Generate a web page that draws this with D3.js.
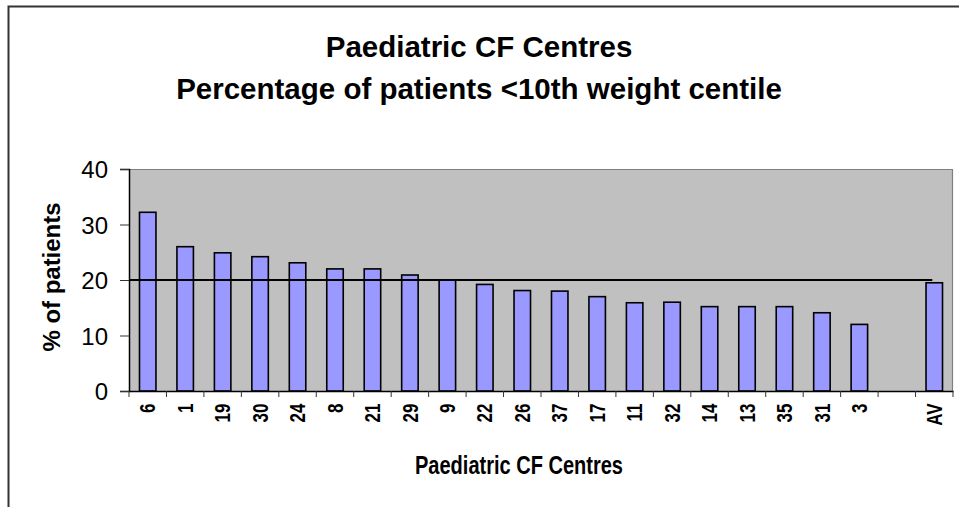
<!DOCTYPE html>
<html>
<head>
<meta charset="utf-8">
<script src="https://cdn.jsdelivr.net/npm/d3@7"></script>
<style>
    body { margin: 0; background: #fff; }
    svg { display: block; font-family: 'Liberation Sans', Arial, sans-serif; }
</style>
</head>
<body>
<div id="chart"></div>
<script>
// Data
const centres = ['6', '1', '19', '30', '24', '8', '21', '29', '9', '22', '26', '37', '17', '11', '32', '14', '13', '35', '31', '3', ' ', 'AV']
const percentages = [32.2, 26, 24.9, 24.2, 23.1, 22, 22, 20.9, 20, 19.2, 18.1, 18, 17, 15.9, 16, 15.2, 15.2, 15.2, 14.1, 12, null, 19.5]
const yTicks = [0, 10, 20, 30, 40]
const averageLine = 20
const titleLines = ['Paediatric CF Centres', 'Percentage of patients <10th weight centile']
const xTitle = 'Paediatric CF Centres'
const yTitle = '% of patients'

const width = 959
const height = 507
const margin = { top: 169, right: 6, bottom: 116, left: 129 }
const chartWidth = width - margin.left - margin.right
const chartHeight = height - margin.top - margin.bottom

const svg = d3.select('#chart').append('svg')
    .attr('width', width)
    .attr('height', height)

// Outer frame (only top and left visible)
svg.append('path')
    .attr('d', `M8.5,${height}V6.5H${width}`)
    .attr('fill', 'none')
    .attr('stroke', '#333')
    .attr('stroke-width', 2)

// Title
titleLines.forEach((line, i) => {
    svg.append('text')
        .attr('transform', `translate(479, ${57 + i * 42})`)
        .attr('text-anchor', 'middle')
        .attr('font-size', 29.5)
        .attr('font-weight', 'bold')
        .text(line)
})

// Scales
const x = d3.scaleBand()
    .domain(centres)
    .range([0, chartWidth])
    .paddingInner(0.56)
    .paddingOuter(0.28)
const y = d3.scaleLinear()
    .domain([0, 40])
    .range([chartHeight, 0])

const g = svg.append('g')
    .attr('transform', `translate(${margin.left}, ${margin.top})`)

// Plot area
g.append('rect')
    .attr('width', chartWidth)
    .attr('height', chartHeight)
    .attr('fill', '#c0c0c0')
g.append('path')
    .attr('d', `M0,0.5H${chartWidth - 0.5}V${chartHeight}`)
    .attr('fill', 'none')
    .attr('stroke', '#808080')
    .attr('stroke-width', 1.2)

// Bars
const bars = centres.map((c, i) => ({ centre: c, value: percentages[i] })).filter(d => d.value !== null)
g.selectAll('rect.bar')
    .data(bars)
    .enter()
    .append('rect')
    .attr('class', 'bar')
    .attr('x', d => x(d.centre))
    .attr('y', d => y(d.value))
    .attr('width', x.bandwidth())
    .attr('height', d => chartHeight - y(d.value))
    .attr('fill', '#9999ff')
    .attr('stroke', '#000')
    .attr('stroke-width', 1.6)

// Average line
g.append('line')
    .attr('x1', 0)
    .attr('x2', x('AV') + x.bandwidth() / 2 - 2)
    .attr('y1', y(averageLine))
    .attr('y2', y(averageLine))
    .attr('stroke', '#000')
    .attr('stroke-width', 2)

// Y axis
const yAxis = g.append('g')
    .call(d3.axisLeft(y).tickValues(yTicks).tickSize(9))
yAxis.select('.domain').attr('stroke', '#000').attr('stroke-width', 1.5)
yAxis.selectAll('.tick line').attr('stroke', '#333')
yAxis.selectAll('.tick text')
    .attr('x', -21)
    .attr('dy', '0.36em')
    .attr('font-size', 24)
    .attr('font-family', null)
    .attr('fill', '#000')

// X axis
const xAxis = g.append('g')
    .attr('transform', `translate(0, ${chartHeight})`)
    .call(d3.axisBottom(x).tickSize(0).tickSizeOuter(0))
xAxis.select('.domain').attr('stroke', '#000').attr('stroke-width', 1.5)
xAxis.selectAll('.tick text')
    .attr('x', 0)
    .attr('y', 0)
    .attr('dy', '0.36em')
    .attr('text-anchor', 'end')
    .attr('transform', 'translate(0, 12.5) scale(1.25, 1) rotate(-90)')
    .attr('font-size', 17)
    .attr('font-weight', 'bold')
    .attr('font-family', null)
    .attr('fill', '#000')

const boundaries = centres.map(c => x(c) - (x.step() - x.bandwidth()) / 2).concat([chartWidth])
xAxis.selectAll('line.boundary')
    .data(boundaries)
    .enter()
    .append('line')
    .attr('class', 'boundary')
    .attr('x1', d => d)
    .attr('x2', d => d)
    .attr('y1', 0)
    .attr('y2', 6)
    .attr('stroke', '#333')

// Axis titles
svg.append('text')
    .attr('transform', 'translate(519, 474)')
    .attr('text-anchor', 'middle')
    .attr('font-size', 25)
    .attr('font-weight', 'bold')
    .attr('textLength', 208)
    .attr('lengthAdjust', 'spacingAndGlyphs')
    .text(xTitle)

svg.append('text')
    .attr('transform', 'translate(60, 277) rotate(-90)')
    .attr('text-anchor', 'middle')
    .attr('font-size', 24)
    .attr('font-weight', 'bold')
    .attr('textLength', 149)
    .attr('lengthAdjust', 'spacingAndGlyphs')
    .text(yTitle)
</script>
</body>
</html>
